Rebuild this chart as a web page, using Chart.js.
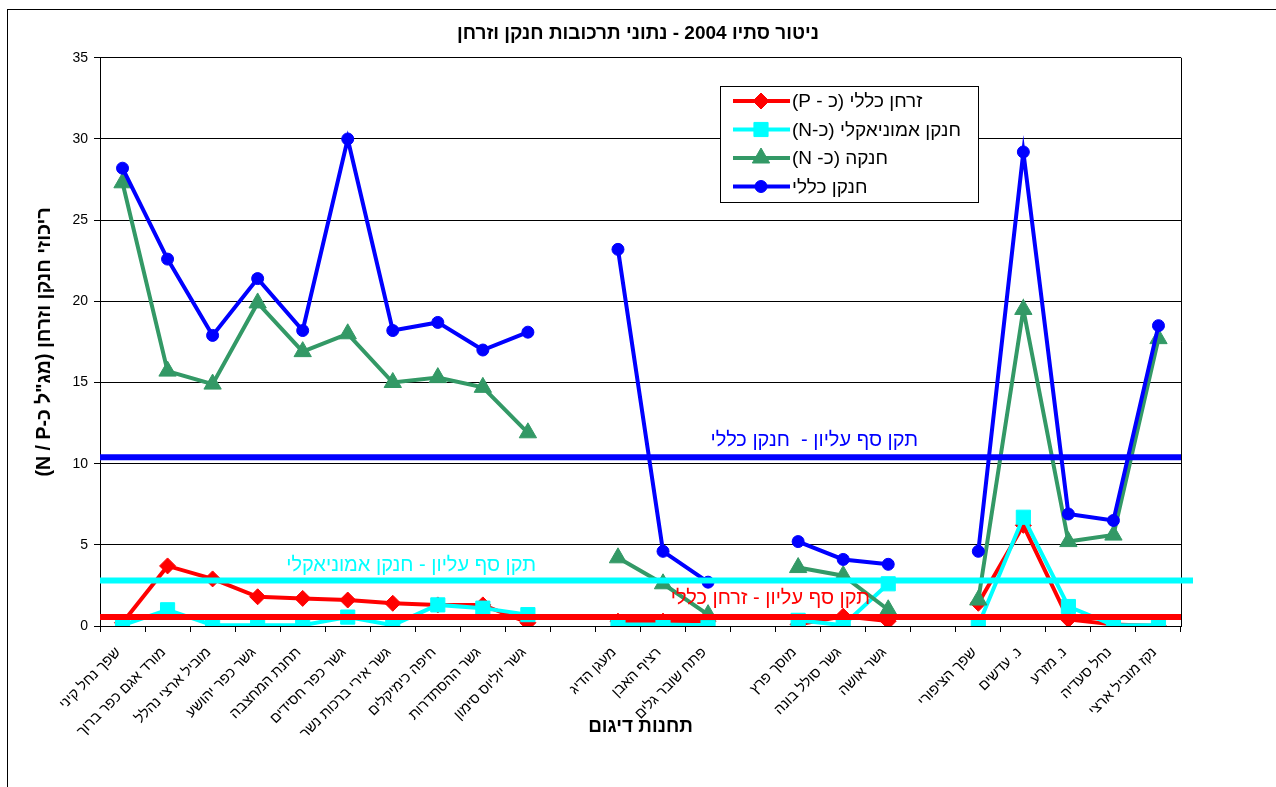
<!DOCTYPE html>
<html lang="he">
<head>
<meta charset="utf-8">
<title>ניטור סתיו 2004</title>
<script src="https://cdn.jsdelivr.net/npm/chart.js@4/dist/chart.umd.min.js"></script>
<style>
  html, body { margin: 0; padding: 0; background: #fff; overflow: hidden; }
  #frame { position: absolute; left: 7px; top: 9px; width: 1300px; height: 800px; border: 1px solid #000; }
  #wrap { position: absolute; left: 0; top: 0; width: 1276px; height: 787px; }
</style>
</head>
<body>
<div id="frame"></div>
<div id="wrap"><canvas id="chart" width="1276" height="787" dir="rtl"></canvas></div>
<script>
// sampling stations (empty strings separate the river / port / Kishon / Zippori groups)
const stations = [
  "שפך נחל קיני", "מורד אגם כפר ברוך", "מוביל ארצי נהלל", "גשר כפר יהושע", "תחנת המחצבה",
  "גשר כפר חסידים", "גשר אירי ברכות נשר", "חיפה כימיקלים", "גשר ההסתדרות", "גשר יוליוס סימון",
  "",
  "מעגן הדיג", "רציף האבן", "פתח שובר גלים",
  "",
  "מוסך פרץ", "גשר סולל בונה", "גשר אושה",
  "",
  "שפך הציפורי", "נ. עדשים", "נ. מזרע", "נחל סעדיה", "נקז מוביל ארצי"
];

const totalP   = [0.2, 3.7, 2.9, 1.8, 1.7, 1.6, 1.4, 1.3, 1.3, 0.2, null, 0.3, 0.3, 0.3, null, 0.1, 0.6, 0.3, null, 1.4, 6.2, 0.4, 0.1, 0.0];
const ammonia  = [0.05, 1.0, 0.05, 0.05, 0.05, 0.55, 0.05, 1.3, 1.1, 0.7, null, 0.1, 0.1, 0.05, null, 0.35, 0.05, 2.6, null, 0.05, 6.7, 1.2, 0.05, 0.05];
const nitrate  = [27.3, 15.7, 14.9, 19.9, 16.9, 18.0, 15.0, 15.3, 14.7, 11.9, null, 4.2, 2.6, 0.7, null, 3.6, 3.1, 1.0, null, 1.6, 19.5, 5.2, 5.6, 17.7];
const totalN   = [28.2, 22.6, 17.9, 21.4, 18.2, 30.0, 18.2, 18.7, 17.0, 18.1, null, 23.2, 4.6, 2.7, null, 5.2, 4.1, 3.8, null, 4.6, 29.2, 6.9, 6.5, 18.5];

// upper threshold standards
const limitLabels = ["תקן סף עליון -  חנקן כללי", "תקן סף עליון - חנקן אמוניאקלי", "תקן סף עליון - זרחן כללי"];
const limitValues = [10.4, 2.8, 0.55];

const FONT = '"Liberation Sans", Arial, sans-serif';
Chart.defaults.font.family = FONT;
Chart.defaults.color = '#000';

function series(label, data, color, pointStyle, radius, order) {
  return {
    label: label,
    data: data,
    borderColor: color,
    backgroundColor: color,
    borderWidth: 4,
    pointStyle: pointStyle,
    pointRadius: radius,
    pointHoverRadius: radius,
    pointBorderWidth: 1,
    tension: 0,
    spanGaps: false,
    order: order
  };
}

const datasets = [
  series("זרחן כללי (כ - P)", totalP, "#ff0000", "rectRot", 8, 3),
  series("חנקן אמוניאקלי (כ-N)", ammonia, "#00ffff", "rect", 10, 2),
  series("חנקה (כ- N)", nitrate, "#339966", "triangle", 10, 1),
  series("חנקן כללי", totalN, "#0000ff", "circle", 6, 0)
];

// frame on the right side of the plot area
const plotBorder = {
  id: 'plotBorder',
  beforeDatasetsDraw(chart) {
    const { ctx, chartArea: a } = chart;
    ctx.save();
    ctx.strokeStyle = '#000';
    ctx.lineWidth = 1;
    ctx.beginPath();
    ctx.moveTo(Math.round(a.right) + 0.5, a.top);
    ctx.lineTo(Math.round(a.right) + 0.5, a.bottom);
    ctx.stroke();
    ctx.restore();
  }
};

// threshold lines with their captions
const limitLines = {
  id: 'limitLines',
  afterDatasetsDraw(chart) {
    const { ctx, chartArea: a, scales: { y } } = chart;
    const colors = ['#0000ff', '#00ffff', '#ff0000'];
    const overhang = [0, 12, 0];
    const captionRight = [918, 536, 870];
    const captionLift = [11, 10, 13];
    ctx.save();
    limitValues.forEach((v, i) => {
      const py = y.getPixelForValue(v);
      ctx.strokeStyle = colors[i];
      ctx.lineWidth = 6;
      ctx.beginPath();
      ctx.moveTo(a.left, py);
      ctx.lineTo(a.right + overhang[i], py);
      ctx.stroke();
      ctx.fillStyle = colors[i];
      ctx.font = '20px ' + FONT;
      ctx.textAlign = 'right';
      ctx.textBaseline = 'alphabetic';
      ctx.fillText(limitLabels[i], captionRight[i], py - captionLift[i]);
    });
    ctx.restore();
  }
};

// boxed legend with line + marker samples
const boxLegend = {
  id: 'boxLegend',
  afterDraw(chart) {
    const { ctx } = chart;
    const left = 720, top = 86, w = 258, h = 116, row = 28.5;
    ctx.save();
    ctx.fillStyle = '#fff';
    ctx.fillRect(left, top, w, h);
    ctx.strokeStyle = '#000';
    ctx.lineWidth = 1;
    ctx.strokeRect(left + 0.5, top + 0.5, w, h);
    chart.data.datasets.forEach((ds, i) => {
      const cy = top + 15 + i * row;
      ctx.strokeStyle = ds.borderColor;
      ctx.lineWidth = 4;
      ctx.beginPath();
      ctx.moveTo(left + 13, cy);
      ctx.lineTo(left + 70, cy);
      ctx.stroke();
      ctx.fillStyle = ds.backgroundColor;
      ctx.lineWidth = 1;
      Chart.helpers.drawPoint(ctx, { pointStyle: ds.pointStyle, radius: ds.pointRadius, borderWidth: 1, rotation: 0 }, left + 41, cy);
      ctx.fillStyle = '#000';
      ctx.font = '19px ' + FONT;
      ctx.textAlign = 'left';
      ctx.textBaseline = 'middle';
      ctx.fillText(ds.label, left + 72, cy + 1);
    });
    ctx.restore();
  }
};

new Chart(document.getElementById('chart'), {
  type: 'line',
  data: { labels: stations, datasets: datasets },
  options: {
    responsive: false,
    animation: false,
    layout: { padding: { left: 0, right: 0, top: 0, bottom: 41 } },
    plugins: {
      legend: { display: false },
      tooltip: { enabled: false },
      title: {
        display: true,
        text: "ניטור סתיו 2004 - נתוני תרכובות חנקן וזרחן",
        color: '#000',
        font: { size: 19, weight: 'bold', family: FONT },
        padding: { top: 22, bottom: 13 }
      }
    },
    scales: {
      x: {
        offset: true,
        grid: { offset: true, drawOnChartArea: false, drawTicks: true, tickLength: 6, color: '#000' },
        border: { color: '#000', width: 1 },
        ticks: { autoSkip: false, minRotation: 45, maxRotation: 45, padding: 12, labelOffset: -4, color: '#000', font: { size: 14.5, family: FONT } },
        title: {
          display: true,
          text: "תחנות דיגום",
          color: '#000',
          font: { size: 19, weight: 'bold', family: FONT },
          padding: { top: 0, bottom: 8 }
        },
        afterFit(s) { s.height = 120; }
      },
      y: {
        min: 0,
        max: 35,
        ticks: { stepSize: 5, padding: 6, color: '#000', font: { size: 14, family: FONT } },
        grid: { color: '#000', lineWidth: 1, tickLength: 6 },
        border: { color: '#000', width: 1 },
        title: {
          display: true,
          text: "ריכוזי חנקן וזרחן (מג\"ל כ-N / P)",
          color: '#000',
          font: { size: 19.5, weight: 'bold', family: FONT },
          padding: { top: 33, bottom: 0 }
        },
        afterFit(s) { s.width = 100; }
      },
      // empty right-hand strip, keeps the plot narrower than the page
      side: {
        type: 'linear',
        position: 'right',
        display: true,
        ticks: { display: false },
        grid: { display: false, drawTicks: false },
        border: { display: false },
        afterFit(s) { s.width = 95; }
      }
    }
  },
  plugins: [plotBorder, limitLines, boxLegend]
});
</script>
</body>
</html>
